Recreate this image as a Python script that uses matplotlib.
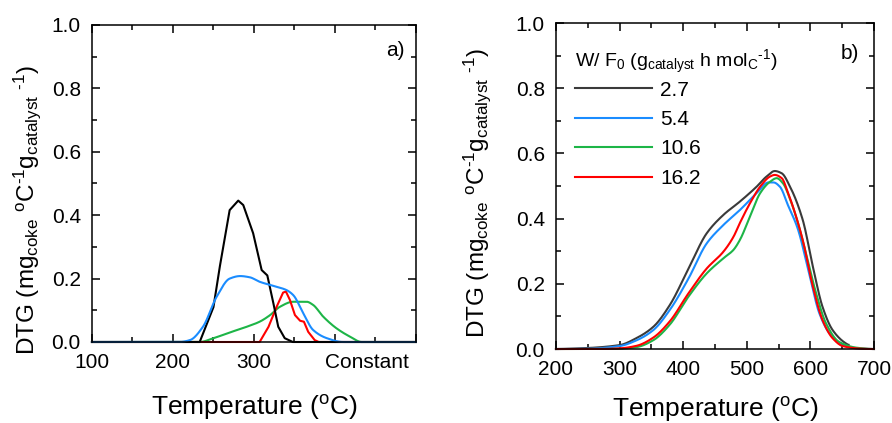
import numpy as np
import matplotlib
matplotlib.use("Agg")
import matplotlib.pyplot as plt
from matplotlib.ticker import MultipleLocator

plt.rcParams['font.family'] = ['Liberation Sans', 'DejaVu Sans']
plt.rcParams['mathtext.fontset'] = 'custom'
plt.rcParams['mathtext.rm'] = 'Liberation Sans'
plt.rcParams['mathtext.it'] = 'Liberation Sans:italic'
plt.rcParams['mathtext.default'] = 'regular'

# ---- panel a) data (temperature in C, DTG) ----
a_black_t = [100, 233, 250, 258, 270, 280.6, 286.8, 299, 309.5, 316.5, 324, 330, 338, 348, 500]
a_black_v = [0, 0, 0.11, 0.24, 0.416, 0.446, 0.432, 0.343, 0.227, 0.21, 0.122, 0.048, 0.012, 0, 0]

a_blue_t = [100, 208, 221, 237, 254, 270, 283, 295, 307, 324, 340, 348.5, 361, 373, 390, 410, 500]
a_blue_v = [0, 0, 0.006, 0.048, 0.143, 0.20, 0.208, 0.204, 0.19, 0.177, 0.164, 0.148, 0.09, 0.038, 0.012, 0, 0]

a_green_t = [100, 233, 250, 270, 291, 307, 320, 332, 348.5, 365, 373, 385.5, 402, 418.5, 433, 500]
a_green_v = [0, 0, 0.012, 0.03, 0.048, 0.064, 0.085, 0.111, 0.127, 0.127, 0.117, 0.08, 0.043, 0.017, 0, 0]

a_red_t = [100, 307, 318, 328, 336, 339.5, 344.5, 350.6, 357, 361.7, 367, 375, 380, 500]
a_red_v = [0, 0, 0.048, 0.111, 0.156, 0.159, 0.132, 0.085, 0.067, 0.064, 0.032, 0.006, 0, 0]

# ---- panel b) data ----
labels_b = ['2.7', '5.4', '10.6', '16.2']

b1_t = [200, 237, 300, 327, 353, 379, 408, 437, 463, 489, 515.5, 531, 544, 555, 568, 588, 604, 619, 635, 656, 660]
b1_v = [0, 0.002, 0.012, 0.034, 0.068, 0.135, 0.245, 0.355, 0.411, 0.452, 0.498, 0.529, 0.546, 0.539, 0.498, 0.396, 0.252, 0.13, 0.058, 0.017, 0.013]

b2_t = [200, 250, 300, 327, 353, 379, 408, 437, 463, 489, 515.5, 534, 542, 552, 565, 580, 598, 614, 630, 651, 675, 700]
b2_v = [0, 0.001, 0.009, 0.027, 0.058, 0.12, 0.215, 0.324, 0.38, 0.426, 0.478, 0.511, 0.511, 0.498, 0.44, 0.37, 0.232, 0.11, 0.048, 0.011, 0.002, 0]

b3_t = [200, 270, 300, 327, 353, 379, 408, 437, 463, 479, 489, 505, 521, 536.5, 547, 557, 568, 580, 593, 609, 624.5, 645, 673, 700]
b3_v = [0, 0, 0.001, 0.006, 0.027, 0.075, 0.16, 0.232, 0.278, 0.304, 0.334, 0.406, 0.478, 0.513, 0.524, 0.508, 0.46, 0.39, 0.294, 0.171, 0.079, 0.022, 0.004, 0]

b4_t = [200, 270, 300, 327, 353, 379, 408, 437, 463, 479, 489, 505, 521, 536.5, 544, 555, 565, 572, 588, 604, 619, 635, 651, 680, 700]
b4_v = [0, 0, 0.002, 0.01, 0.035, 0.085, 0.17, 0.247, 0.298, 0.344, 0.386, 0.447, 0.498, 0.529, 0.534, 0.524, 0.478, 0.44, 0.334, 0.191, 0.089, 0.033, 0.009, 0.001, 0]

c_black = '#000000'
c_grey = '#3a3a3a'
c_blue = '#1a8cff'
c_green = '#1db547'
c_red = '#ff0000'


def smooth(t, v, n=500):
    """Monotone cubic (PCHIP style) through the read points."""
    t = np.asarray(t, float)
    v = np.asarray(v, float)
    tt = np.linspace(t[0], t[-1], n)
    h = np.diff(t)
    d = np.diff(v) / h
    m = np.zeros_like(v)
    for k in range(1, len(v) - 1):
        if d[k - 1] * d[k] > 0:
            w1 = 2 * h[k] + h[k - 1]
            w2 = h[k] + 2 * h[k - 1]
            m[k] = (w1 + w2) / (w1 / d[k - 1] + w2 / d[k])
    idx = np.clip(np.searchsorted(t, tt) - 1, 0, len(t) - 2)
    s = (tt - t[idx]) / h[idx]
    h00 = 2 * s**3 - 3 * s**2 + 1
    h10 = s**3 - 2 * s**2 + s
    h01 = -2 * s**3 + 3 * s**2
    h11 = s**3 - s**2
    vv = h00 * v[idx] + h10 * h[idx] * m[idx] + h01 * v[idx + 1] + h11 * h[idx] * m[idx + 1]
    return tt, vv


def style_axes(ax):
    for sp in ax.spines.values():
        sp.set_linewidth(1.1)
    ax.tick_params(which='both', direction='in', top=True, right=True,
                   labelsize=15, width=1.1)
    ax.tick_params(which='major', length=6, pad=8)
    ax.tick_params(which='minor', length=3.5)
    ax.set_ylim(0, 1.0)
    ax.yaxis.set_major_locator(MultipleLocator(0.2))
    ax.yaxis.set_minor_locator(MultipleLocator(0.1))
    ax.yaxis.set_major_formatter(plt.FormatStrFormatter('%.1f'))
    ax.xaxis.set_minor_locator(MultipleLocator(50))


ylab = r'DTG (mg$_{coke}$ $^{o}$C$^{\text{-}1}$g$_{catalyst}$ $^{\text{-}1}$)'
xlab = r'Temperature ($^{o}$C)'

fig = plt.figure(figsize=(8.92, 4.23), dpi=100)
ax1 = fig.add_axes([0.1031, 0.1915, 0.3632, 0.7494])
ax2 = fig.add_axes([0.6233, 0.1749, 0.3565, 0.7707])

# panel a
style_axes(ax1)
a_series = [(a_green_t, a_green_v, c_green, True), (a_red_t, a_red_v, c_red, False),
            (a_black_t, a_black_v, c_black, False), (a_blue_t, a_blue_v, c_blue, True)]
for t, v, c, sm in a_series:
    if sm:
        t, v = smooth(t, v)
    ax1.plot(t, v, color=c, lw=1.5, clip_on=False)
ax1.set_xlim(100, 500)
ax1.set_xticks([100, 200, 300, 400, 500])
ax1.set_xticklabels(['100', '200', '300', '', ''])
ax1.text(440, -0.035, 'Constant', ha='center', va='top', fontsize=15,
         transform=ax1.get_xaxis_transform())
ax1.text(0.935, 0.92, 'a)', transform=ax1.transAxes, ha='center', va='center', fontsize=15)
ax1.set_ylabel(ylab, fontsize=17.5)
ax1.yaxis.set_label_coords(-0.151, 0.416)
ax1.set_xlabel(xlab, fontsize=19)
ax1.xaxis.set_label_coords(0.5, -0.16)

# panel b
style_axes(ax2)
series_b = [(b1_t, b1_v, c_grey), (b2_t, b2_v, c_blue), (b3_t, b3_v, c_green), (b4_t, b4_v, c_red)]
for (t, v, c), lab in zip(series_b, labels_b):
    tt, vv = smooth(t, v)
    ax2.plot(tt, vv, color=c, lw=1.5, label=lab, clip_on=False)
ax2.set_xlim(200, 700)
ax2.xaxis.set_major_locator(MultipleLocator(100))
ax2.text(0.925, 0.905, 'b)', transform=ax2.transAxes, ha='center', va='center', fontsize=15)
ax2.set_ylabel(ylab, fontsize=17.5)
ax2.yaxis.set_label_coords(-0.198, 0.48)
ax2.set_xlabel(xlab, fontsize=19)
ax2.xaxis.set_label_coords(0.5, -0.14)
leg = ax2.legend(title=r'W/ F$_0$ (g$_{catalyst}$ h mol$_C$$^{\text{-}1}$)',
                 loc='upper left', bbox_to_anchor=(0.0, 0.98), frameon=False,
                 fontsize=15, title_fontsize=14, handlelength=3.7,
                 handletextpad=0.4, labelspacing=0.5, borderaxespad=0.5)
leg._legend_box.align = 'left'
leg._legend_box.sep = 3

fig.savefig('out.png', dpi=100)
